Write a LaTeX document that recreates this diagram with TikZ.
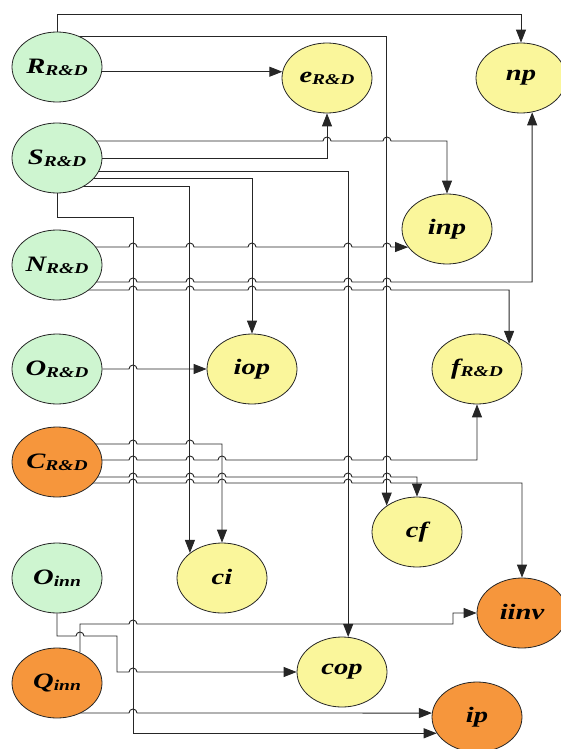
\documentclass[tikz,border=0pt]{standalone}
\usepackage{fontspec}
\setmainfont{Liberation Serif}
\usepackage{graphicx}
\usetikzlibrary{shapes.geometric,arrows.meta,backgrounds}

\definecolor{rdgreen}{RGB}{206,245,208}
\definecolor{rdyellow}{RGB}{250,246,155}
\definecolor{rdorange}{RGB}{246,150,60}

%% label with a lowered subscript, stretched a bit like the original
\newcommand{\lbl}[2]{\scalebox{1.3}[1]{\bfseries\itshape #1\raisebox{-0.2ex}{\fontsize{15}{16}\selectfont #2}}}
%% a small bump where a horizontal line jumps over a vertical one
\newcommand{\hop}[2]{-- (#1-4,#2) arc[start angle=180,end angle=0,radius=4pt]}

\tikzset{
	var/.style={draw=black!85, ellipse, line width=0.8pt, minimum width=90pt, minimum height=70pt, inner sep=0pt, font=\fontsize{22}{24}\selectfont},
	link/.style={draw=black!85, line width=0.9pt, -{Triangle[length=13pt,width=10pt]}}
}

\begin{document}
\begin{tikzpicture}[x=1pt, y=-1pt]

	\useasboundingbox (0,0) rectangle (560,749);

	%% The left column of factors
	\foreach \nm/\yy/\lab/\sub/\col in {Rrd/67/R/R\&D/rdgreen, Srd/158/S/R\&D/rdgreen, Nrd/265/N/R\&D/rdgreen, Ord/369/O/R\&D/rdgreen, Crd/462/C/R\&D/rdorange, Oinn/578/O/inn/rdgreen, Qinn/683/Q/inn/rdorange}{%
		\node[var, fill=\col] (\nm) at (57,\yy) {\lbl{\lab}{\sub}};
	}

	%% The outcome variables
	\begin{scope}[every node/.style={var, fill=rdyellow}]
		\node (erd) at (327,78) {\lbl{e}{R\&D}};
		\node (np) at (521,78) {\lbl{np}{}};
		\node (inp) at (447,229) {\lbl{inp}{}};
		\node (iop) at (252,369) {\lbl{iop}{}};
		\node (frd) at (477,369) {\lbl{f}{R\&D}};
		\node (cf) at (417,532) {\lbl{cf}{}};
		\node (ci) at (222,578) {\lbl{ci}{}};
		\node (cop) at (342,672) {\lbl{cop}{}};
		\node[fill=rdorange] (iinv) at (522,613) {\lbl{iinv}{}};
		\node[fill=rdorange] (ip) at (477,717) {\lbl{ip}{}};
	\end{scope}

	%% Connectors, kept behind the ellipses
	\begin{scope}[on background layer]
		%% from R
		\draw[link] (Rrd.north) -- (57,14) -| (np.north);
		\draw[link] (Rrd) ++(0,-31) -| (cf.139);
		\draw[link] (Rrd |- erd.172) -- (erd.172);

		%% from S
		\draw[link] (Srd) ++(0,-17) \hop{327}{141} \hop{387}{141} -| (inp.north);
		\draw[link] (Srd) -| (erd.south);
		\draw[link] (Srd) ++(0,13) -| (cop.80);
		\draw[link] (Srd) ++(0,20) -| (iop.north);
		\draw[link] (Srd) ++(0,28) -| (ci.142);
		\draw[link] (Srd.south) -- (57,217) -- (133,217) |- (ip.202);

		%% from N
		\draw[link] (Nrd) ++(0,-18) \hop{133}{247} \hop{190}{247} \hop{252}{247} \hop{348}{247} \hop{387}{247} -- (inp.205);
		\draw[link] (Nrd) ++(0,17) \hop{133}{282} \hop{190}{282} \hop{252}{282} \hop{348}{282} \hop{387}{282} -| (np.288);
		\draw[link] (Nrd) ++(0,25) \hop{133}{290} \hop{190}{290} \hop{252}{290} \hop{348}{290} \hop{387}{290} -| (frd.38);

		%% from O
		\draw[link] (Ord) \hop{133}{369} -- (iop.west);

		%% from C
		\draw[link] (Crd) ++(0,-18) \hop{133}{444} \hop{190}{444} -| (ci.north);
		\draw[link] (Crd) ++(0,-2) \hop{133}{460} \hop{190}{460} \hop{222}{460} \hop{348}{460} \hop{387}{460} -| (frd.south);
		\draw[link] (Crd) ++(0,15) \hop{133}{477} \hop{190}{477} \hop{222}{477} \hop{348}{477} \hop{387}{477} -| (cf.north);
		\draw[link] (Crd) ++(0,21) \hop{133}{483} \hop{190}{483} \hop{222}{483} \hop{348}{483} \hop{387}{483} -| (iinv.north);

		%% from the innovation factors
		\draw[link] (Oinn.south) -- (57,636) \hop{80}{636} -- (117,636) -- (117,672) \hop{133}{672} -- (cop.west);
		\draw[link] (Qinn.53) -- (80,624) \hop{133}{624} -- (453,624) -- (453,613) -- (iinv.west);
		\draw[link] (Qinn) ++(0,30) \hop{133}{713} -- (ip.175);
	\end{scope}

\end{tikzpicture}
\end{document}
